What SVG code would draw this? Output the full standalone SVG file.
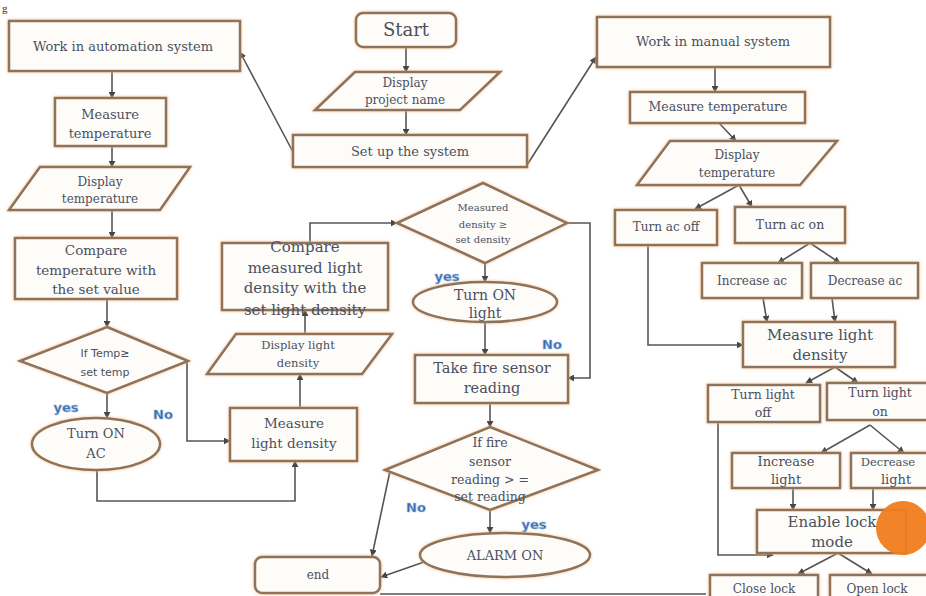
<svg xmlns="http://www.w3.org/2000/svg" width="926" height="596" viewBox="0 0 926 596">
<style>
.n{fill:#FEFCF9;stroke:#8E735A;stroke-width:2.5;filter:url(#glow)}
.t{font-family:"DejaVu Serif","Liberation Serif",serif;fill:#4A5060;text-anchor:middle}
.s{font-family:"DejaVu Sans","Liberation Sans",sans-serif;fill:#4A5060;text-anchor:middle}
.lab{font-family:"DejaVu Sans","Liberation Sans",sans-serif;font-weight:bold;fill:#3467AE;text-anchor:middle;font-size:13px;stroke:#9DB8DA;stroke-width:0.6}
.c{fill:none;stroke:#555555;stroke-width:1.6}
.a{marker-end:url(#ar)}
</style>
<defs>
<filter id="glow" x="-10%" y="-20%" width="120%" height="140%">
<feDropShadow dx="0" dy="0" stdDeviation="1.6" flood-color="#F3B27C" flood-opacity="0.9"/>
</filter>
<marker id="ar" viewBox="0 0 10 10" refX="9" refY="5" markerWidth="7" markerHeight="7" orient="auto" markerUnits="userSpaceOnUse">
<path d="M0,0 L10,5 L0,10 z" fill="#444444"/>
</marker>
</defs>
<rect width="926" height="596" fill="#FFFFFF"/>
<text x="2" y="12" style="font-family:'Liberation Serif',serif;font-size:11px;fill:#333">g</text>

<g id="connectors">
<line class="c a" x1="293" y1="152" x2="240" y2="52"/>
<line class="c a" x1="527" y1="165" x2="596" y2="57"/>
<line class="c a" x1="406" y1="47" x2="406" y2="72"/>
<line class="c a" x1="406" y1="110" x2="406" y2="135"/>
<line class="c a" x1="112" y1="71" x2="112" y2="98"/>
<line class="c a" x1="112" y1="146" x2="112" y2="167"/>
<line class="c a" x1="112" y1="210" x2="112" y2="238"/>
<line class="c a" x1="107" y1="299" x2="107" y2="327"/>
<line class="c a" x1="107" y1="393" x2="107" y2="418"/>
<polyline class="c a" points="187,362 187,441 230,441"/>
<polyline class="c a" points="97,469 97,501 295,501 295,461"/>
<line class="c a" x1="300" y1="408" x2="300" y2="374"/>
<line class="c a" x1="305" y1="334" x2="305" y2="310"/>
<polyline class="c a" points="310,243 310,223 397,223"/>
<line class="c a" x1="485" y1="263" x2="485" y2="282"/>
<polyline class="c a" points="567,223 590,223 590,378 568,378"/>
<line class="c a" x1="485" y1="322" x2="485" y2="355"/>
<line class="c a" x1="490" y1="403" x2="490" y2="427"/>
<line class="c a" x1="490" y1="510" x2="490" y2="533"/>
<line class="c a" x1="390" y1="471" x2="372" y2="556"/>
<line class="c a" x1="424" y1="562" x2="381" y2="577"/>
<line class="c" x1="380" y1="594" x2="706" y2="594"/>
<line class="c a" x1="715" y1="67" x2="715" y2="92"/>
<line class="c a" x1="719" y1="123" x2="736" y2="141"/>
<line class="c a" x1="739" y1="185" x2="695" y2="209"/>
<line class="c a" x1="739" y1="185" x2="752" y2="207"/>
<line class="c a" x1="810" y1="243" x2="778" y2="263"/>
<line class="c a" x1="810" y1="243" x2="840" y2="263"/>
<line class="c a" x1="763" y1="298" x2="767" y2="322"/>
<line class="c a" x1="832" y1="298" x2="835" y2="322"/>
<polyline class="c a" points="648,238 648,345 743,345"/>
<line class="c a" x1="835" y1="367" x2="806" y2="383"/>
<line class="c a" x1="835" y1="367" x2="858" y2="383"/>
<line class="c a" x1="870" y1="425" x2="821" y2="453"/>
<line class="c a" x1="870" y1="425" x2="904" y2="453"/>
<line class="c a" x1="793" y1="488" x2="793" y2="510"/>
<line class="c a" x1="873" y1="488" x2="873" y2="510"/>
<polyline class="c a" points="718,415 718,555 773,555"/>
<line class="c a" x1="838" y1="553" x2="798" y2="574"/>
<line class="c a" x1="838" y1="553" x2="872" y2="574"/>
</g>

<g id="start"><rect class="n" x="356" y="13" width="100" height="34" rx="7"/><text class="t" x="406" y="36" font-size="18">Start</text></g>
<g id="displayProject"><polygon class="n" points="355,72 500,72 460,110 315,110"/><text class="t" x="405" y="87" font-size="12">Display</text><text class="t" x="405" y="104" font-size="12">project name</text></g>
<g id="setup"><rect class="n" x="293" y="135" width="234" height="32"/><text class="t" x="410" y="156" font-size="13">Set up the system</text></g>

<g id="workAuto"><rect class="n" x="9" y="21" width="231" height="50"/><text class="t" x="123" y="51" font-size="13">Work in automation system</text></g>
<g id="measureTempL"><rect class="n" x="55" y="98" width="111" height="48"/><text class="t" x="110" y="119" font-size="13">Measure</text><text class="t" x="110" y="138" font-size="13">temperature</text></g>
<g id="displayTempL"><polygon class="n" points="40,167 190,167 160,210 9,210"/><text class="t" x="100" y="186" font-size="12">Display</text><text class="t" x="100" y="203" font-size="12">temperature</text></g>
<g id="compareTemp"><rect class="n" x="15" y="238" width="162" height="61"/><text class="t" x="96" y="255" font-size="13.5">Compare</text><text class="t" x="96" y="275" font-size="13.5">temperature with</text><text class="t" x="96" y="294" font-size="13.5">the set value</text></g>
<g id="ifTemp"><polygon class="n" points="107,327 188,361 107,393 20,361"/><text class="s" x="105" y="357" font-size="11">If Temp≥</text><text class="s" x="105" y="376" font-size="11">set temp</text></g>
<g id="turnOnAC"><ellipse class="n" cx="96" cy="444" rx="64" ry="26"/><text class="t" x="96" y="438" font-size="13">Turn ON</text><text class="t" x="96" y="458" font-size="13">AC</text></g>
<g id="measureLightL"><rect class="n" x="230" y="408" width="127" height="53"/><text class="t" x="294" y="428" font-size="13.5">Measure</text><text class="t" x="294" y="448" font-size="13.5">light density</text></g>
<g id="displayLight"><polygon class="n" points="236,334 392,334 362,374 207,374"/><text class="t" x="298" y="349" font-size="11.5">Display light</text><text class="t" x="298" y="367" font-size="11.5">density</text></g>
<g id="compareLight"><rect class="n" x="222" y="243" width="166" height="67"/><text class="t" x="305" y="252" font-size="15">Compare</text><text class="t" x="305" y="273" font-size="15">measured light</text><text class="t" x="305" y="293" font-size="15">density with the</text><text class="t" x="305" y="315" font-size="15">set light density</text></g>
<g id="ifLight"><polygon class="n" points="483,183 567,223 485,263 397,223"/><text class="t" x="483" y="211" font-size="10">Measured</text><text class="t" x="483" y="228" font-size="10">density ≥</text><text class="t" x="483" y="243" font-size="10">set density</text></g>
<g id="turnOnLight"><ellipse class="n" cx="485" cy="302" rx="72" ry="20"/><text class="t" x="485" y="300" font-size="14">Turn ON</text><text class="t" x="485" y="318" font-size="14">light</text></g>
<g id="fireReading"><rect class="n" x="415" y="355" width="153" height="48"/><text class="t" x="492" y="373" font-size="14.5">Take fire sensor</text><text class="t" x="492" y="393" font-size="14.5">reading</text></g>
<g id="ifFire"><polygon class="n" points="490,427 598,470 490,510 385,470"/><text class="t" x="490" y="447" font-size="12.5">If fire</text><text class="t" x="490" y="466" font-size="12.5">sensor</text><text class="t" x="490" y="484" font-size="12.5">reading &gt; =</text><text class="t" x="490" y="501" font-size="12.5">set reading</text></g>
<g id="alarm"><ellipse class="n" cx="505" cy="555" rx="85" ry="22"/><text class="t" x="505" y="560" font-size="13">ALARM ON</text></g>
<g id="end"><rect class="n" x="255" y="557" width="125" height="36" rx="7"/><text class="t" x="318" y="579" font-size="12">end</text></g>

<g id="workManual"><rect class="n" x="597" y="17" width="233" height="50"/><text class="t" x="713" y="46" font-size="13">Work in manual system</text></g>
<g id="measureTempR"><rect class="n" x="630" y="92" width="175" height="31"/><text class="t" x="718" y="111" font-size="12.5">Measure temperature</text></g>
<g id="displayTempR"><polygon class="n" points="670,141 837,141 800,185 637,185"/><text class="t" x="737" y="159" font-size="12">Display</text><text class="t" x="737" y="177" font-size="12">temperature</text></g>
<g id="acOff"><rect class="n" x="615" y="210" width="102" height="35"/><text class="t" x="666" y="231" font-size="12">Turn ac off</text></g>
<g id="acOn"><rect class="n" x="735" y="207" width="110" height="36"/><text class="t" x="790" y="229" font-size="12.5">Turn ac on</text></g>
<g id="incAc"><rect class="n" x="702" y="263" width="100" height="35"/><text class="t" x="752" y="285" font-size="12">Increase ac</text></g>
<g id="decAc"><rect class="n" x="811" y="263" width="107" height="35"/><text class="t" x="865" y="285" font-size="12">Decrease ac</text></g>
<g id="measureLightR"><rect class="n" x="743" y="322" width="152" height="45"/><text class="t" x="820" y="340" font-size="15">Measure light</text><text class="t" x="820" y="360" font-size="15">density</text></g>
<g id="lightOff"><rect class="n" x="708" y="385" width="112" height="37"/><text class="t" x="763" y="399" font-size="12.5">Turn light</text><text class="t" x="763" y="417" font-size="12.5">off</text></g>
<g id="lightOn"><rect class="n" x="827" y="383" width="104" height="37"/><text class="t" x="880" y="397" font-size="12.5">Turn light</text><text class="t" x="880" y="416" font-size="12.5">on</text></g>
<g id="incLight"><rect class="n" x="732" y="453" width="108" height="35"/><text class="t" x="786" y="466" font-size="13">Increase</text><text class="t" x="786" y="484" font-size="13">light</text></g>
<g id="decLight"><rect class="n" x="851" y="453" width="90" height="35"/><text class="t" x="888" y="466" font-size="11.5">Decrease</text><text class="t" x="896" y="484" font-size="13">light</text></g>
<g id="lockMode"><rect class="n" x="757" y="510" width="149" height="43"/><text class="t" x="832" y="527" font-size="15">Enable lock</text><text class="t" x="832" y="547" font-size="15">mode</text></g>
<g id="closeLock"><rect class="n" x="710" y="575" width="108" height="30"/><text class="t" x="764" y="593" font-size="12">Close lock</text></g>
<g id="openLock"><rect class="n" x="830" y="575" width="100" height="30"/><text class="t" x="877" y="593" font-size="12">Open lock</text></g>

<g id="labels">
<text class="lab" x="66" y="412">yes</text>
<text class="lab" x="163" y="419">No</text>
<text class="lab" x="447" y="281">yes</text>
<text class="lab" x="552" y="349">No</text>
<text class="lab" x="416" y="512">No</text>
<text class="lab" x="534" y="529">yes</text>
</g>
<circle cx="903" cy="528" r="27" fill="#F07D1E" opacity="0.95"/>
</svg>
